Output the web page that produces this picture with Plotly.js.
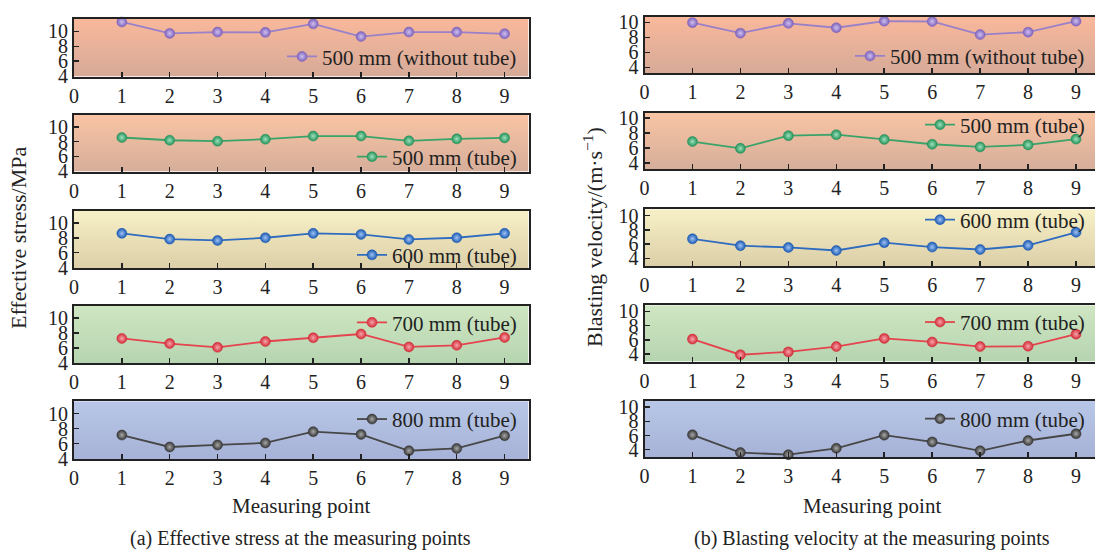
<!DOCTYPE html>
<html>
<head>
<meta charset="utf-8">
<script src="https://cdn.plot.ly/plotly-3.0.1.min.js"></script>
<style>
html, body { margin: 0; padding: 0; overflow: hidden; background: #fff; }
#chart { width: 1100px; height: 552px; }
</style>
</head>
<body>
<div id="chart"></div>
<script>
// ---------------- DATA ----------------
const measuringPoints = [1, 2, 3, 4, 5, 6, 7, 8, 9];
const xTickVals = [0, 1, 2, 3, 4, 5, 6, 7, 8, 9];
const yTickVals = [4, 6, 8, 10];

const seriesNames = ["500 mm (without tube)", "500 mm (tube)", "600 mm (tube)", "700 mm (tube)", "800 mm (tube)"];

// (a) Effective stress / MPa
const stress500NoTube = [11.25, 9.72, 9.90, 9.86, 11.0, 9.30, 9.90, 9.90, 9.67];
const stress500Tube   = [8.55, 8.18, 8.05, 8.32, 8.75, 8.75, 8.10, 8.37, 8.50];
const stress600Tube   = [8.59, 7.82, 7.64, 8.00, 8.59, 8.45, 7.77, 8.00, 8.59];
const stress700Tube   = [7.27, 6.59, 6.09, 6.86, 7.36, 7.86, 6.14, 6.36, 7.40];
const stress800Tube   = [7.14, 5.55, 5.82, 6.09, 7.59, 7.23, 5.05, 5.36, 7.05];

// (b) Blasting velocity / (m·s^-1)
const vel500NoTube = [9.95, 8.55, 9.86, 9.27, 10.14, 10.10, 8.36, 8.68, 10.14];
const vel500Tube   = [6.86, 5.95, 7.64, 7.77, 7.14, 6.50, 6.14, 6.41, 7.18];
const vel600Tube   = [6.73, 5.77, 5.53, 5.10, 6.20, 5.58, 5.24, 5.82, 7.65];
const vel700Tube   = [6.10, 3.90, 4.30, 5.05, 6.20, 5.70, 5.05, 5.10, 6.80];
const vel800Tube   = [6.10, 3.60, 3.30, 4.20, 6.05, 5.10, 3.85, 5.30, 6.25];

const stressSeries = [stress500NoTube, stress500Tube, stress600Tube, stress700Tube, stress800Tube];
const velSeries = [vel500NoTube, vel500Tube, vel600Tube, vel700Tube, vel800Tube];

// ---------------- STYLE ----------------
const FONT = "Liberation Serif";
const lineColors   = ["#9a80c9", "#3aa36a", "#2f6cc0", "#e5444e", "#474747"];
const markerColors = ["#7e62bb", "#24925a", "#1c5ab2", "#d22c38", "#363636"];
const markerLight  = ["#cfc0ee", "#9fe0bb", "#9fc3f5", "#f7a5ab", "#a8a8a8"];
const bgTop    = ["#f9b89b", "#f9c4a4", "#f7f0c6", "#cfe6c2", "#b8c7e7"];
const bgBottom = ["#d6aa98", "#d6ae9a", "#dccfa9", "#b6d4b0", "#a6b2d7"];

const W = 1100, H = 552;
const leftX = [74, 528.5];
const rightX = [644.5, 1100];
const leftTop = [19, 114.6, 210.5, 305.5, 401.2];
const leftBot = [76.5, 171.5, 268, 363.4, 459];
const rightTop = [17, 112.7, 209.3, 305.3, 401];
const rightBot = [73.3, 169, 266, 361.6, 457.3];
const leftRange = [3.95, 11.65];
const rightRanges = [[3.2, 10.7], [3.2, 10.7], [2.93, 10.87], [2.93, 10.87], [2.93, 10.87]];

// legend positions: [right edge px, center y px]
const leftLegend = [[522, 56.8], [522, 157], [522, 255.2], [522, 322.7], [522, 419.4]];
const rightLegend = [[1090, 56.3], [1090, 125], [1090, 220], [1090, 322.4], [1090, 419]];

function gradSrc(top, bot) {
  const svg = '<svg xmlns="http://www.w3.org/2000/svg" width="100" height="100" viewBox="0 0 100 100" preserveAspectRatio="none">' +
    '<defs><linearGradient id="g" x1="0" y1="0" x2="0" y2="1">' +
    '<stop offset="0" stop-color="' + top + '"/><stop offset="1" stop-color="' + bot + '"/>' +
    '</linearGradient></defs><rect x="0" y="0" width="100" height="100" fill="url(#g)"/></svg>';
  return "data:image/svg+xml;charset=utf-8," + encodeURIComponent(svg);
}

const traces = [];
const layout = {
  width: W, height: H,
  margin: {l: 0, r: 0, t: 0, b: 0},
  paper_bgcolor: "#ffffff",
  plot_bgcolor: "rgba(0,0,0,0)",
  font: {family: FONT, size: 20, color: "#222"},
  showlegend: true,
  images: [],
  annotations: []
};

function addPanel(idx, xs, top, bot, yRange, data, k, legPos) {
  const n = idx === 1 ? "" : String(idx);
  const xa = "xaxis" + n, ya = "yaxis" + n;
  const legName = idx === 1 ? "legend" : "legend" + idx;
  layout[xa] = {
    domain: [xs[0] / W, xs[1] / W],
    anchor: "y" + n,
    range: [0, 9.5],
    tickvals: xTickVals,
    ticks: "inside", ticklen: 5, tickwidth: 1.5, tickcolor: "#222",
    showline: true, linewidth: 2, linecolor: "#222", mirror: true,
    showgrid: false, zeroline: false,
    tickfont: {family: FONT, size: 20, color: "#222"},
    fixedrange: true
  };
  layout[ya] = {
    domain: [1 - bot / H, 1 - top / H],
    anchor: "x" + n,
    range: yRange,
    tickvals: yTickVals,
    ticks: "inside", ticklen: 5, tickwidth: 1.5, tickcolor: "#222",
    showline: true, linewidth: 2, linecolor: "#222", mirror: true,
    showgrid: false, zeroline: false,
    tickfont: {family: FONT, size: 20, color: "#222"},
    fixedrange: true
  };
  layout.images.push({
    source: gradSrc(bgTop[k], bgBottom[k]),
    xref: "paper", yref: "paper",
    x: xs[0] / W, y: 1 - top / H,
    sizex: (xs[1] - xs[0]) / W, sizey: (bot - top) / H,
    xanchor: "left", yanchor: "top",
    sizing: "stretch", layer: "below"
  });
  layout[legName] = {
    x: legPos[0] / W, y: 1 - legPos[1] / H,
    xanchor: "right", yanchor: "middle",
    bgcolor: "rgba(0,0,0,0)", borderwidth: 0,
    font: {family: FONT, size: 21, color: "#222"},
    itemwidth: 30
  };
  traces.push({
    type: "scatter", mode: "lines+markers",
    x: measuringPoints, y: data,
    name: seriesNames[k],
    xaxis: "x" + n, yaxis: "y" + n,
    legend: legName, showlegend: true,
    line: {color: lineColors[k], width: 1.8},
    marker: {size: 10, color: markerColors[k],
             gradient: {type: "radial", color: markerLight[k]},
             line: {width: 0.5, color: markerColors[k]}},
    cliponaxis: false
  });
}

for (let k = 0; k < 5; k++) {
  addPanel(k + 1, leftX, leftTop[k], leftBot[k], leftRange, stressSeries[k], k, leftLegend[k]);
}
for (let k = 0; k < 5; k++) {
  addPanel(k + 6, rightX, rightTop[k], rightBot[k], rightRanges[k], velSeries[k], k, rightLegend[k]);
}

const txt = (text, x, y, opts) => Object.assign({
  text: text, xref: "paper", yref: "paper", x: x / W, y: 1 - y / H,
  showarrow: false, xanchor: "center", yanchor: "middle",
  font: {family: FONT, size: 21, color: "#222"}
}, opts || {});

layout.annotations.push(txt("Effective stress/MPa", 18, 238, {textangle: -90, font: {family: FONT, size: 22, color: "#222"}}));
layout.annotations.push(txt("Blasting velocity/(m·s<sup>−1</sup>)", 593, 237, {textangle: -90, font: {family: FONT, size: 22, color: "#222"}}));
layout.annotations.push(txt("Measuring point", 301, 506));
layout.annotations.push(txt("Measuring point", 872, 506));
layout.annotations.push(txt("(a) Effective stress at the measuring points", 300, 538, {font: {family: FONT, size: 20, color: "#222"}}));
layout.annotations.push(txt("(b) Blasting velocity at the measuring points", 872, 538, {font: {family: FONT, size: 20, color: "#222"}}));

Plotly.newPlot("chart", traces, layout, {staticPlot: true, displayModeBar: false});
</script>
</body>
</html>
